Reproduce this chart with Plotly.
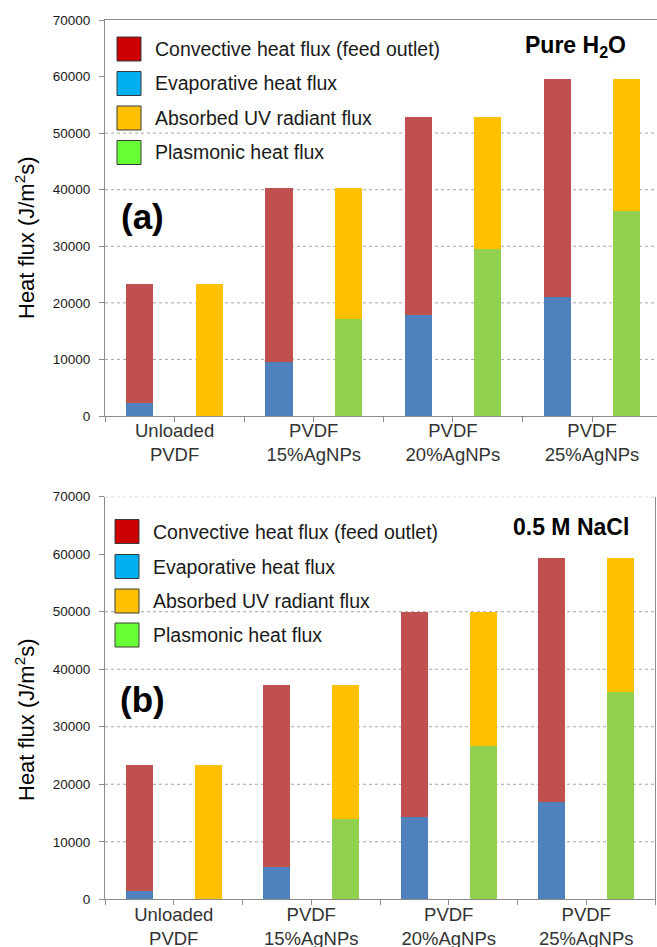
import plotly.graph_objects as go

# ---------------- data ----------------
membranes = ["Unloaded<br>PVDF", "PVDF<br>15%AgNPs", "PVDF<br>20%AgNPs", "PVDF<br>25%AgNPs"]
legend_labels = ["Convective heat flux (feed outlet)", "Evaporative heat flux",
                 "Absorbed UV radiant flux", "Plasmonic heat flux"]

# Panel (a): Pure H2O
h2o_evaporative = [2300, 9600, 17900, 21100]
h2o_convective = [21000, 30700, 34900, 38400]
h2o_plasmonic = [0, 17100, 29600, 36200]
h2o_absorbed_uv = [23300, 23200, 23200, 23300]

# Panel (b): 0.5 M NaCl
nacl_evaporative = [1500, 5600, 14300, 17000]
nacl_convective = [21800, 31700, 35700, 42300]
nacl_plasmonic = [0, 13900, 26700, 36000]
nacl_absorbed_uv = [23300, 23400, 23300, 23300]

y_ticks = [0, 10000, 20000, 30000, 40000, 50000, 60000, 70000]
y_ticktext = ["0", "10000", "20000", "30000", "40000", "50000", "60000", "70000"]
grid_levels = [10000, 20000, 30000, 40000, 50000]

# ---------------- styles ----------------
W, H = 657, 947
BAR_RED = "#C0504D"
BAR_BLUE = "#4F81BD"
BAR_YELLOW = "#FFC000"
BAR_GREEN = "#92D050"
LEG_COLORS = ["#CC0000", "#00B0F0", "#FFC000", "#66FF33"]
AXIS_GRAY = "#8C8C8C"
GRID_GRAY = "#A6A6A6"
FONT = "Liberation Sans, Arial, sans-serif"


def px(xp):
    return xp / W


def py(yp):
    return 1 - yp / H


conv_x = [2 * i for i in range(len(membranes))]
abs_x = [2 * i + 1 for i in range(len(membranes))]
BW = 0.39

fig = go.Figure()

panels = [
    dict(xa="x", ya="y", evap=h2o_evaporative, conv=h2o_convective,
         plas=h2o_plasmonic, absb=h2o_absorbed_uv),
    dict(xa="x2", ya="y2", evap=nacl_evaporative, conv=nacl_convective,
         plas=nacl_plasmonic, absb=nacl_absorbed_uv),
]
for p in panels:
    fig.add_trace(go.Bar(x=conv_x, y=p["evap"], width=BW, marker_color=BAR_BLUE,
                         marker_line_width=0, xaxis=p["xa"], yaxis=p["ya"],
                         name=legend_labels[1], showlegend=False))
    fig.add_trace(go.Bar(x=conv_x, y=p["conv"], width=BW, marker_color=BAR_RED,
                         marker_line_width=0, xaxis=p["xa"], yaxis=p["ya"],
                         name=legend_labels[0], showlegend=False))
    fig.add_trace(go.Bar(x=abs_x, y=p["plas"], width=BW, marker_color=BAR_GREEN,
                         marker_line_width=0, xaxis=p["xa"], yaxis=p["ya"],
                         name=legend_labels[3], showlegend=False))
    fig.add_trace(go.Bar(x=abs_x, y=p["absb"], width=BW, marker_color=BAR_YELLOW,
                         marker_line_width=0, xaxis=p["xa"], yaxis=p["ya"],
                         name=legend_labels[2], showlegend=False))

# category ticks between the paired bars
x_tickvals = [i + 0.5 for i in range(-1, 2 * len(membranes))]
x_ticktext = []
for v in x_tickvals:
    k = int(v - 0.5)
    x_ticktext.append(membranes[k // 2] if (k >= 0 and k % 2 == 0) else "")

common_x = dict(tickmode="array", tickvals=x_tickvals, ticktext=x_ticktext,
                showline=True, linecolor=AXIS_GRAY, linewidth=1.2,
                ticks="outside", ticklen=5, tickcolor=AXIS_GRAY, showgrid=False,
                zeroline=False, tickfont=dict(family=FONT, size=18.5, color="#333333"),
                ticklabelstandoff=-7, automargin=False, fixedrange=True)
common_y = dict(tickmode="array", tickvals=y_ticks, ticktext=y_ticktext,
                range=[0, 70000],
                showline=True, linecolor=AXIS_GRAY, linewidth=1.2,
                ticks="outside", ticklen=5, tickcolor=AXIS_GRAY, showgrid=False,
                zeroline=False, tickfont=dict(family=FONT, size=13.5, color="#1a1a1a"),
                ticklabelstandoff=6, automargin=False)

top = (20, 416)
bot = (496.7, 899.3)

fig.update_layout(
    width=W, height=H, margin=dict(l=0, r=0, t=0, b=0, autoexpand=False),
    paper_bgcolor="white", plot_bgcolor="white", barmode="stack",
    showlegend=False, font=dict(family=FONT),
    xaxis=dict(domain=[px(105), 1], range=[-0.5, 7.434], anchor="y",
               mirror=True, **common_x),
    yaxis=dict(domain=[py(top[1]), py(top[0])], anchor="x", **common_y),
    xaxis2=dict(domain=[px(105), px(655)], range=[-0.5, 7.5], anchor="y2",
                **common_x),
    yaxis2=dict(domain=[py(bot[1]), py(bot[0])], anchor="x2", mirror=True,
                **common_y),
)

shapes = []
annotations = []

# dotted grid lines
for xr, yr, levels in [("x domain", "y", grid_levels),
                       ("x2 domain", "y2", grid_levels + [70000])]:
    for g in levels:
        shapes.append(dict(type="line", xref=xr, yref=yr, x0=0, x1=1, y0=g, y1=g,
                           line=dict(color=GRID_GRAY, width=1, dash="dot"),
                           layer="below"))

# manual legends (large square swatches)
legend_rows = [
    dict(rows=[49, 83.5, 118, 152.5], x0=117, text_x=153),
    dict(rows=[531.5, 566.5, 601, 635], x0=115, text_x=151),
]
SW = 24
for lg in legend_rows:
    for label, col, yc in zip(legend_labels, LEG_COLORS, lg["rows"]):
        shapes.append(dict(type="rect", xref="paper", yref="paper",
                           x0=px(lg["x0"]), x1=px(lg["x0"] + SW),
                           y0=py(yc + SW / 2), y1=py(yc - SW / 2),
                           fillcolor=col, line=dict(color="#3a3a3a", width=1),
                           layer="above"))
        annotations.append(dict(xref="paper", yref="paper", x=px(lg["text_x"]), y=py(yc),
                                text=label, showarrow=False, xanchor="left",
                                yanchor="middle",
                                font=dict(family=FONT, size=19.5, color="#1a1a1a")))


def label(x, y, text, size, angle=0):
    return dict(xref="paper", yref="paper", x=px(x), y=py(y), text=text,
                textangle=angle, showarrow=False, xanchor="center", yanchor="middle",
                font=dict(family=FONT, size=size, color="#000000"))


annotations += [
    label(142, 216, "<b>(a)</b>", 35),
    label(142, 699, "<b>(b)</b>", 35),
    label(575, 46, "<b>Pure H<sub>2</sub>O</b>", 23),
    label(571, 527, "<b>0.5 M NaCl</b>", 23),
    label(25, 238, "Heat flux (J/m<sup>2</sup>s)", 22, -90),
    label(25, 720, "Heat flux (J/m<sup>2</sup>s)", 22, -90),
]

fig.update_layout(shapes=shapes, annotations=annotations)
fig.write_html("out.html")
